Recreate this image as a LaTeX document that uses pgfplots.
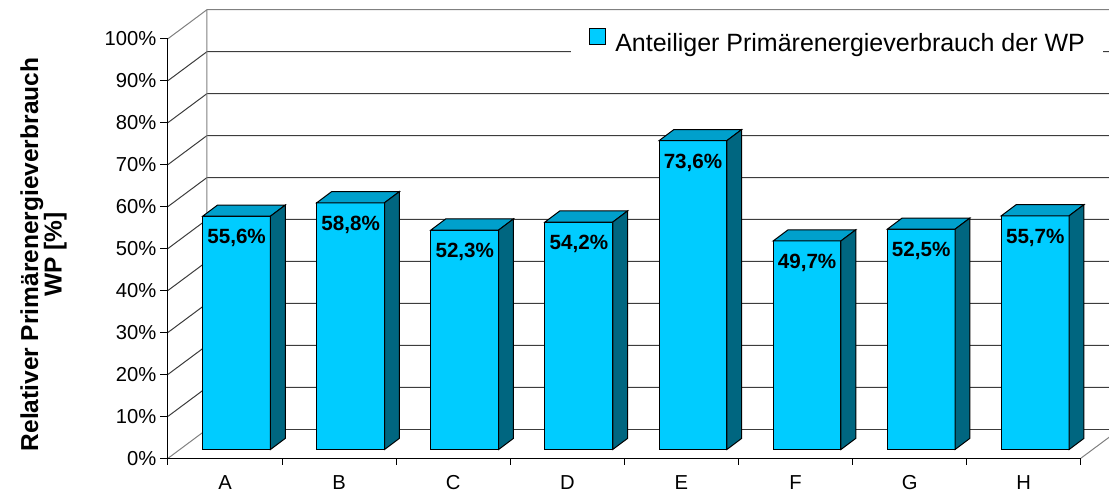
\documentclass[border=0pt]{standalone}
\usepackage{pgfplots}
\pgfplotsset{compat=1.18}
\usepackage{pgfplotstable}
\usepackage{fontspec}
\setmainfont{Liberation Sans}
\definecolor{barfront}{RGB}{0,204,255}
\definecolor{bartop}{RGB}{0,160,204}
\definecolor{barside}{RGB}{0,102,128}
\definecolor{gridc}{RGB}{60,60,60}
\definecolor{wallc}{RGB}{128,128,128}

\pgfplotstableread{
idx val
0 55.6
1 58.8
2 52.3
3 54.2
4 73.6
5 49.7
6 52.5
7 55.7
}\datatable

\begin{document}
\begin{tikzpicture}
\useasboundingbox (0,0) rectangle (554.5pt,246.5pt);
\begin{axis}[
  at={(84pt,17.35pt)}, anchor=south west,
  x=57.05pt, y=2.098pt,
  xmin=0, xmax=8.254, ymin=0, ymax=106.91,
  clip=false,
  axis lines*=left,
  axis line style={draw=none},
  major tick length=0pt,
  tick style={draw=none},
  /pgf/number format/assume math mode=true,
  xtick={0.5,1.5,2.5,3.5,4.5,5.5,6.5,7.5},
  xticklabels={A,B,C,D,E,F,G,H},
  ytick={0,10,...,100},
  yticklabel={\pgfmathprintnumber{\tick}\%},
  tick label style={font=\fontsize{10.1pt}{12pt}\selectfont},
  yticklabel style={anchor=east, inner sep=0pt, xshift=-5.6pt},
  xticklabel style={anchor=north, inner sep=0pt, yshift=-8.5pt},
  ylabel={Relativer Primärenergieverbrauch\\WP [\%]},
  ylabel style={at={(axis description cs:-0.1322,0.4543)}, anchor=center, align=center,
    font=\bfseries\fontsize{12.25pt}{11.7pt}\selectfont},
  legend style={at={(axis description cs:0.4279,0.930)}, anchor=west,
    draw=none, fill=white, inner xsep=9pt, inner ysep=4pt,
    font=\fontsize{12.5pt}{15pt}\selectfont, nodes={inner sep=0pt}},
  legend cell align=left,
]
% legend
\addlegendimage{legend image code/.code={\draw[fill=barfront,draw=black,line width=0.5pt] (0pt,-0.5pt) rectangle (8pt,7.5pt); \path (12.5pt,0pt);}}
\addlegendentry{Anteiliger Primärenergieverbrauch der WP}

% walls and grid
\pgfplotsinvokeforeach{10,20,...,90}{
  \draw[gridc, line width=0.5pt] (axis cs:0,#1) -- ++(19.5pt,14.5pt) -- ++(470pt,0pt);
}
\draw[wallc, line width=0.5pt] (axis cs:0,100) -- ++(19.5pt,14.5pt) -- ++(470pt,0pt);
\draw[wallc, line width=0.5pt] (axis cs:0,0) -- ++(19.5pt,14.5pt) -- ++(0pt,209.8pt);
\draw[gridc, line width=0.5pt] (axis cs:0,0) ++(19.5pt,14.5pt) -- ++(470pt,0pt);
\draw[wallc, line width=0.5pt] (axis cs:8,0) -- ++(19.5pt,14.5pt);
% front axes
\draw[black, line width=0.5pt] (axis cs:0,100) -- (axis cs:0,0) -- (axis cs:8,0);
\pgfplotsinvokeforeach{0,10,...,100}{
  \draw[black, line width=0.5pt] (axis cs:0,#1) -- ++(-4pt,0pt);
}
\pgfplotsinvokeforeach{0,...,8}{
  \draw[black, line width=0.5pt] (axis cs:#1,0) -- ++(0pt,-3.5pt);
}

% bars
\pgfplotsinvokeforeach{0,...,7}{
  \pgfplotstablegetelem{#1}{val}\of\datatable
  \pgfmathsetmacro\yt{2.1+\pgfplotsretval}
  \pgfmathsetmacro\yu{\yt+2.65}
  \pgfmathsetmacro\xa{#1+0.304}
  \pgfmathsetmacro\xb{#1+0.898}
  \pgfmathsetmacro\xc{#1+0.898+0.13}
  \pgfmathsetmacro\xd{#1+0.304+0.13}
  \addplot[fill=barfront, draw=black, line width=0.5pt] coordinates {(\xa,2.1) (\xb,2.1) (\xb,\yt) (\xa,\yt)} -- cycle;
  \addplot[fill=bartop, draw=black, line width=0.5pt] coordinates {(\xa,\yt) (\xb,\yt) (\xc,\yu) (\xd,\yu)} -- cycle;
  \addplot[fill=barside, draw=black, line width=0.5pt] coordinates {(\xb,2.1) (\xc,4.75) (\xc,\yu) (\xb,\yt)} -- cycle;
}

% data labels
\addplot[draw=none, mark=none, point meta=explicit,
  nodes near coords={\pgfmathprintnumber[fixed,fixed zerofill,precision=1,use comma,assume math mode=true]{\pgfplotspointmeta}\%},
  nodes near coords style={anchor=center, yshift=-11pt, inner sep=0pt,
    font=\bfseries\fontsize{10.3pt}{12pt}\selectfont}]
  table[x expr=\thisrow{idx}+0.601, y expr=\thisrow{val}+2.1, meta=val]{\datatable};
\end{axis}
\end{tikzpicture}
\end{document}
